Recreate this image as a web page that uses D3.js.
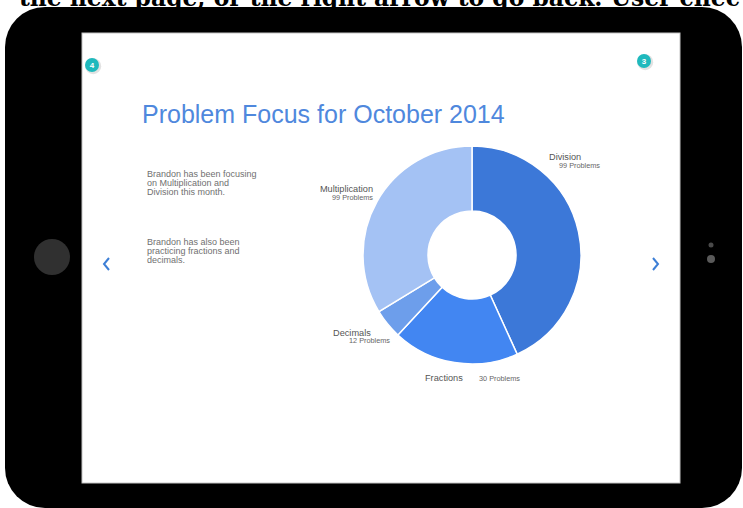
<!DOCTYPE html>
<html>
<head>
<meta charset="utf-8">
<script src="https://cdn.jsdelivr.net/npm/d3@7"></script>
<style>
  html, body { margin: 0; padding: 0; background: #ffffff; }
  svg { display: block; }
</style>
</head>
<body>
<svg id="chart" width="743" height="508"></svg>
<script>
// ---- data ----
const categories = ["Division", "Fractions", "Decimals", "Multiplication"];
const sliceShares = [43.2, 18.7, 4.4, 33.7];          // share of the ring
const problemLabels = ["99 Problems", "30 Problems", "12 Problems", "99 Problems"];
const sliceColors = ["#3c78d8", "#4286f2", "#6d9eeb", "#a4c2f4"];
const titleText = "Problem Focus for October 2014";
const noteLines1 = ["Brandon has been focusing", "on Multiplication and", "Division this month."];
const noteLines2 = ["Brandon has also been", "practicing fractions and", "decimals."];
const captionText = "the next page, or the right arrow to go back. User chec";
const pageBadges = ["4", "3"];

const svg = d3.select("#chart");

// tablet body
svg.append("rect")
  .attr("x", 5).attr("y", 7).attr("width", 737).attr("height", 501)
  .attr("rx", 40).attr("ry", 40)
  .attr("fill", "#000");

// caption cut at top edge of the picture
svg.append("text")
  .attr("x", 19).attr("y", 6)
  .attr("font-family", "'DejaVu Serif', serif")
  .attr("font-weight", "bold")
  .attr("font-size", 23.4)
  .attr("fill", "#000")
  .text(captionText);

// screen
svg.append("rect")
  .attr("x", 82).attr("y", 33).attr("width", 598).attr("height", 450)
  .attr("fill", "#fff")
  .attr("stroke", "#c4c4c4").attr("stroke-width", 1);

// home button and camera
svg.append("circle").attr("cx", 52).attr("cy", 257).attr("r", 18).attr("fill", "#303030");
svg.append("circle").attr("cx", 711).attr("cy", 245).attr("r", 2.5).attr("fill", "#4a4a4a");
svg.append("circle").attr("cx", 711).attr("cy", 259).attr("r", 4).attr("fill", "#5a5a5a");

// page badges
const badgePos = [[92, 65], [644, 61]];
pageBadges.forEach((b, i) => {
  const [x, y] = badgePos[i];
  svg.append("circle").attr("cx", x + 1.2).attr("cy", y + 1.2).attr("r", 8).attr("fill", "#e2e2e2");
  svg.append("circle").attr("cx", x).attr("cy", y).attr("r", 7).attr("fill", "#1fb9bd");
  svg.append("text").attr("x", x).attr("y", y + 3)
    .attr("text-anchor", "middle")
    .attr("font-family", "Arial, 'Liberation Sans', sans-serif")
    .attr("font-weight", "bold").attr("font-size", 8)
    .attr("fill", "#fff").text(b);
});

// nav arrows
svg.append("path").attr("d", "M109,258 L104,264 L109,270")
  .attr("fill", "none").attr("stroke", "#3d7fd6").attr("stroke-width", 2);
svg.append("path").attr("d", "M653,258 L658,264 L653,270")
  .attr("fill", "none").attr("stroke", "#3d7fd6").attr("stroke-width", 2);

// title
svg.append("text")
  .attr("x", 142).attr("y", 123)
  .attr("font-family", "Arial, 'Liberation Sans', sans-serif")
  .attr("font-size", 25)
  .attr("fill", "#4f88dd")
  .text(titleText);

// notes
function notes(lines, y0) {
  const t = svg.append("text")
    .attr("font-family", "Arial, 'Liberation Sans', sans-serif")
    .attr("font-size", 9)
    .attr("fill", "#707070");
  lines.forEach((l, i) => {
    t.append("tspan").attr("x", 147).attr("y", y0 + i * 9).text(l);
  });
}
notes(noteLines1, 177);
notes(noteLines2, 245);

// donut
const cx = 472, cy = 255;
const color = d3.scaleOrdinal().domain(categories).range(sliceColors);
const pie = d3.pie().sort(null).value(d => d.v);
const arcs = pie(categories.map((c, i) => ({ c, v: sliceShares[i] })));
const arc = d3.arc().innerRadius(44).outerRadius(109);

const g = svg.append("g").attr("transform", `translate(${cx},${cy})`);
g.selectAll("path").data(arcs).join("path")
  .attr("d", arc)
  .attr("fill", d => color(d.data.c))
  .attr("stroke", "#fff").attr("stroke-width", 1.5);

// labels (layout relative to centre)
const labelLayout = {
  "Division":       { nx: 77,  ny: -95, na: "start", px: 87,  py: -87, pa: "start" },
  "Fractions":      { nx: -47, ny: 126, na: "start", px: 7,   py: 126, pa: "start" },
  "Decimals":       { nx: -139, ny: 81, na: "start", px: -82, py: 88,  pa: "end" },
  "Multiplication": { nx: -99, ny: -63, na: "end",   px: -99, py: -55, pa: "end" }
};
categories.forEach((c, i) => {
  const L = labelLayout[c];
  g.append("text").attr("x", L.nx).attr("y", L.ny)
    .attr("text-anchor", L.na)
    .attr("font-family", "Arial, 'Liberation Sans', sans-serif")
    .attr("font-size", 9.2).attr("fill", "#555")
    .text(c);
  g.append("text").attr("x", L.px).attr("y", L.py)
    .attr("text-anchor", L.pa)
    .attr("font-family", "Arial, 'Liberation Sans', sans-serif")
    .attr("font-size", 7.3).attr("fill", "#666")
    .text(problemLabels[i]);
});
</script>
</body>
</html>
